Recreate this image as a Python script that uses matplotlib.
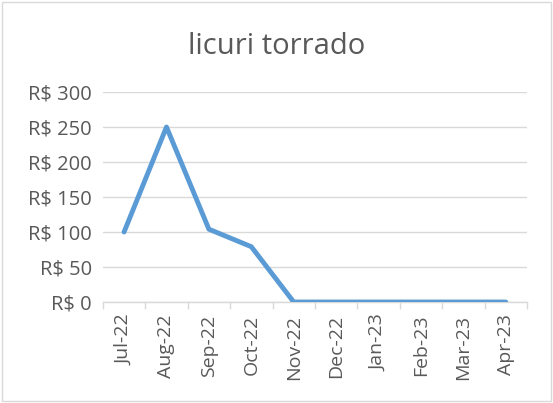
import matplotlib.pyplot as plt
import numpy as np
from matplotlib.patches import Rectangle

months = ["Jul-22", "Aug-22", "Sep-22", "Oct-22", "Nov-22",
          "Dec-22", "Jan-23", "Feb-23", "Mar-23", "Apr-23"]
values = [100, 250, 104, 79, 0, 0, 0, 0, 0, 0]
yticks = [0, 50, 100, 150, 200, 250, 300]

plt.rcParams["font.family"] = ["Open Sans", "DejaVu Sans"]
text_color = "#595959"
grid_color = "#D9D9D9"

fig = plt.figure(figsize=(5.53, 4.03), dpi=100)
fig.patches.append(Rectangle((0.004, 0.004), 0.992, 0.99, transform=fig.transFigure,
                             fill=False, edgecolor="#D9D9D9", linewidth=1))
ax = fig.add_axes([0.186, 0.2506, 0.767, 0.5211])

x = np.arange(len(months))
ax.plot(x, values, color="#5B9BD5", linewidth=3.5, solid_capstyle="round",
        solid_joinstyle="round", zorder=3)

ax.set_xlim(-0.5, len(months) - 0.5)
ax.set_ylim(0, 300)
ax.set_yticks(yticks)
ax.set_yticklabels([f"R$ {v}" for v in yticks], color=text_color, fontsize=14.5)
ax.set_xticks(x)
ax.set_xticklabels(months, rotation=90, color=text_color, fontsize=14)
ax.set_xticks(np.arange(-0.5, len(months), 1), minor=True)
ax.tick_params(axis="x", which="major", length=0, pad=9)
ax.tick_params(axis="x", which="minor", length=5, color=grid_color, width=1)
ax.tick_params(axis="y", length=0, pad=8)
ax.grid(axis="y", color=grid_color, linewidth=1)
for side in ["top", "right", "left"]:
    ax.spines[side].set_visible(False)
ax.spines["bottom"].set_color(grid_color)
ax.spines["bottom"].set_linewidth(1)

fig.text(0.5, 0.885, "licuri torrado", ha="center", va="center",
         fontsize=21, color=text_color)

fig.savefig("out.png", dpi=100)
